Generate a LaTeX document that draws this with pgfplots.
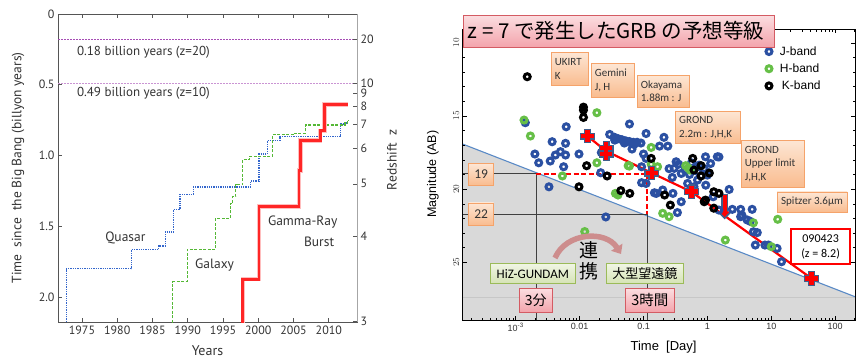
\documentclass[border=0pt]{standalone}
\usepackage{pgfplots}
\pgfplotsset{compat=1.18}
\usepackage{pgfplotstable}
\usepackage{fontspec}
\setmainfont{PT Sans}
\newfontfamily\arialf{Liberation Sans}
\newfontfamily\calf{Carlito}
\newfontfamily\jpf{Noto Sans CJK JP}
\usetikzlibrary{arrows.meta,shadows}

\definecolor{qso}{HTML}{3366CC}
\definecolor{gal}{HTML}{55B836}
\definecolor{grb}{HTML}{FF2626}
\definecolor{zline}{HTML}{A64DB5}
\definecolor{frame}{HTML}{555555}
\definecolor{txt}{HTML}{333333}
\definecolor{jband}{HTML}{2B50A2}
\definecolor{hband}{HTML}{66BF47}
\definecolor{limblue}{HTML}{5A8AC6}
\definecolor{shade}{HTML}{D9D9D9}
\definecolor{crossedge}{HTML}{3F5F8C}
\definecolor{orbord}{HTML}{F5A36A}
\definecolor{ortop}{HTML}{FDE6D4}
\definecolor{orbot}{HTML}{F9BC8F}
\definecolor{pkbord}{HTML}{D45B63}
\definecolor{pktop}{HTML}{FBDDE0}
\definecolor{pkbot}{HTML}{F3A4AC}
\definecolor{gnbord}{HTML}{9BBB59}
\definecolor{gntop}{HTML}{F0F5E4}
\definecolor{gnbot}{HTML}{D5E3B5}
\definecolor{arrowA}{HTML}{C07070}

% afterglow detections: log10(time / day) and AB magnitude
\pgfplotstableread{
lt m
-2.85 15.46
-2.21 15.74
-2.43 16.76
-2.22 16.87
-2.70 17.60
-2.64 18.20
-2.46 18.08
-2.38 17.67
-2.30 17.44
-2.22 17.67
-2.01 17.60
-2.25 18.47
-2.48 19.84
-1.59 21.90
-1.67 18.88
-1.66 17.50
-1.53 16.26
-1.46 16.45
-1.40 16.55
-1.34 16.62
-1.28 16.70
-1.22 16.75
-1.16 16.80
-1.10 16.80
-1.04 16.85
-1.45 16.65
-1.30 16.85
-1.15 16.95
-1.22 15.55
-0.96 16.20
-1.18 17.26
-1.00 17.60
-0.96 17.90
-0.68 16.46
-0.62 17.06
-0.75 17.06
0.18 17.80
-1.03 18.47
-1.03 19.56
-0.96 19.61
-0.83 20.25
-0.80 20.29
-0.70 20.06
-0.54 20.29
-0.47 21.60
-0.41 20.86
-0.31 19.61
-0.21 19.84
-0.155 19.38
-0.026 19.73
0.00 19.04
-0.13 18.36
0.05 18.25
-0.03 17.79
-0.49 18.13
-0.52 18.58
-0.41 18.93
-0.45 18.30
-0.35 18.70
-0.28 19.00
-0.15 18.80
-0.05 18.60
-0.25 18.20
-0.18 18.50
0.155 17.79
0.34 20.02
0.39 21.38
0.52 21.38
0.52 21.88
0.62 22.10
0.70 21.38
0.54 21.78
0.67 22.20
0.72 22.91
0.78 22.97
0.75 23.82
0.90 23.82
0.955 23.82
1.09 24.05
1.16 24.96
0.18 21.43
0.09 20.52
-0.60 18.60
-0.55 19.20
}\tabJ

\pgfplotstableread{
lt m
-2.87 15.28
-2.77 16.37
-1.73 14.78
-1.73 18.20
-2.27 19.10
-0.88 17.15
-1.24 18.40
-1.44 20.29
-1.40 20.40
-1.92 22.90
-0.70 21.65
-0.60 21.88
0.28 23.48
1.10 22.06
-0.34 18.40
-0.30 18.55
-0.27 18.70
-0.78 18.47
1.00 23.93
0.72 22.30
-1.22 18.42
-0.88 18.30
}\tabH

\pgfplotstableread{
lt m
-2.82 12.32
-1.94 14.40
-1.94 14.60
-1.94 15.10
-1.89 18.40
-1.57 19.10
-0.88 17.90
-2.01 19.84
-1.355 20.10
-1.215 20.29
-0.23 17.90
-0.10 18.40
-0.10 19.10
0.03 18.90
-0.67 20.40
-0.58 21.09
-0.21 18.70
0.10 20.18
-0.05 20.86
0.18 20.29
0.10 21.30
-0.03 20.75
}\tabK

\tikzset{
  obox/.style={draw=orbord, top color=ortop, bottom color=orbot, line width=0.6pt,
    drop shadow={opacity=0.25, shadow xshift=0.8bp, shadow yshift=-0.8bp}},
  pbox/.style={draw=pkbord, top color=pktop, bottom color=pkbot, line width=0.6pt,
    drop shadow={opacity=0.25, shadow xshift=0.8bp, shadow yshift=-0.8bp}},
  gbox/.style={draw=gnbord, top color=gntop, bottom color=gnbot, line width=0.6pt,
    drop shadow={opacity=0.25, shadow xshift=0.8bp, shadow yshift=-0.8bp}},
  boxtxt/.style={font=\calf\fontsize{11bp}{13.5bp}\selectfont, text=black!80, align=left, inner sep=0pt}
}
% #1 style, #2 left x, #3 top y, #4 width, #5 height
\newcommand\panel[5]{\node[#1, anchor=north west, minimum width=#4bp, minimum height=#5bp, inner sep=0pt] (b) at (#2bp,#3bp) {};}

\begin{document}
\begin{tikzpicture}
\useasboundingbox (0,0) rectangle (864bp,360bp);

% ---------------- left panel: record redshifts ----------------
\begin{axis}[
  at={(58bp,38bp)}, anchor=south west, scale only axis,
  width=299bp, height=308bp,
  xmin=1971.6, xmax=2014, ymin=0, ymax=2.176, y dir=reverse,
  axis line style={frame, line width=0.6pt},
  xtick={1975,1980,1985,1990,1995,2000,2005,2010},
  xticklabels={1975,1980,1985,1990,1995,2000,2005,2010},
  ytick={0,0.5,1,1.5,2}, yticklabels={0,0.5,1.0,1.5,2.0},
  xtick pos=both, ytick pos=left, tick align=inside,
  major tick length=4bp, tick style={frame, line width=0.6pt},
  ticklabel style={font=\fontsize{12bp}{14bp}\selectfont, text=txt},
  xlabel={Years}, ylabel={Time\ \ since\ \ the Big Bang (billyon years)},
  xlabel style={at={(axis description cs:0.5,-0.094)}, anchor=center, font=\fontsize{14bp}{16bp}\selectfont, text=txt},
  ylabel style={at={(axis description cs:-0.134,0.5)}, anchor=center, rotate=0, font=\fontsize{13.5bp}{16bp}\selectfont, text=txt},
]
\addplot[zline, dash pattern=on 2bp off 1bp, line width=1bp] coordinates {(1971.6,0.18) (2014,0.18)};
\addplot[zline!60, dash pattern=on 2bp off 1bp, line width=1bp] coordinates {(1971.6,0.49) (2014,0.49)};
\node[anchor=west, text=txt, font=\fontsize{13bp}{15bp}\selectfont] at (axis cs:1973.8,0.268) {0.18 billion years (z=20)};
\node[anchor=west, text=txt, font=\fontsize{13bp}{15bp}\selectfont] at (axis cs:1973.8,0.563) {0.49 billion years (z=10)};

% quasars
\addplot[qso, densely dotted, line width=1.3pt, const plot] coordinates {
 (1972.8,2.5) (1972.8,1.80) (1982.0,1.666) (1985.9,1.64) (1986.8,1.54) (1988.0,1.38)
 (1988.9,1.275) (1990.8,1.223) (1998.9,1.18) (2000.1,0.99) (2001.3,0.894) (2003.1,0.866)
 (2011.7,0.777) (2012.6,0.76) (2012.8,0.76)};
% galaxies
\addplot[gal, dash pattern=on 3bp off 1.5bp, line width=1.1pt, const plot] coordinates {
 (1987.9,2.5) (1987.9,1.89) (1989.9,1.665) (1993.9,1.446) (1996.0,1.34) (1996.4,1.29)
 (1996.8,1.206) (1997.8,1.03) (1998.8,1.005) (2002.0,0.852) (2005.0,0.843) (2006.7,0.784)
 (2012.3,0.77) (2012.6,0.75) (2012.8,0.75)};
% gamma-ray bursts
\addplot[grb!30, line width=4.2bp, const plot] coordinates {
 (1997.8,2.5) (1997.8,1.875) (2000.1,1.36) (2005.75,1.105) (2006.0,0.894) (2008.8,0.824)
 (2009.4,0.64) (2012.7,0.64)};
\addplot[grb, line width=2.6bp, const plot] coordinates {
 (1997.8,2.5) (1997.8,1.875) (2000.1,1.36) (2005.75,1.105) (2006.0,0.894) (2008.8,0.824)
 (2009.4,0.64) (2012.7,0.64)};

\node[text=txt, font=\fontsize{13.5bp}{16bp}\selectfont] at (axis cs:1981.15,1.585) {Quasar};
\node[text=txt, font=\fontsize{13.5bp}{16bp}\selectfont] at (axis cs:1993.8,1.775) {Galaxy};
\node[text=txt, font=\fontsize{13.5bp}{16bp}\selectfont] at (axis cs:2006.3,1.472) {Gamma-Ray};
\node[anchor=east, text=txt, font=\fontsize{13.5bp}{16bp}\selectfont] at (axis cs:2011.25,1.606) {Burst};
\end{axis}

% redshift scale on the right side
\begin{axis}[
  at={(58bp,38bp)}, anchor=south west, scale only axis,
  width=299bp, height=308bp,
  xmin=1971.6, xmax=2014, ymin=0, ymax=2.176, y dir=reverse,
  axis x line=none, axis y line*=right,
  axis line style={black!35, line width=1pt},
  ytick={0.18,0.49,0.56,0.65,0.78,0.95,1.2,1.57,2.17},
  yticklabels={20,10,9,8,7,6,5,4,3},
  tick align=inside, major tick length=4bp, tick style={frame, line width=0.6pt},
  ticklabel style={font=\fontsize{12bp}{14bp}\selectfont, text=txt},
  ylabel={Redshift\ \ z},
  ylabel style={at={(axis description cs:1.117,0.526)}, anchor=center, font=\fontsize{13.5bp}{16bp}\selectfont, text=txt},
]
\addplot[draw=none] coordinates {(1980,1)};
\end{axis}

% ---------------- right panel: afterglow brightness ----------------
\begin{axis}[
  at={(462.7bp,40bp)}, anchor=south west, scale only axis,
  width=392.3bp, height=290.7bp,
  xmode=log, xmin=1.48e-4, xmax=204, ymin=9.08, ymax=28.94, y dir=reverse,
  axis on top,
  axis line style={black, line width=0.8pt},
  xtick={0.001,0.01,0.1,1,10,100},
  xticklabels={10\textsuperscript{-3},0.01,0.1,1,10,100},
  minor xtick={2e-4,3e-4,4e-4,5e-4,6e-4,7e-4,8e-4,9e-4,
    0.002,0.003,0.004,0.005,0.006,0.007,0.008,0.009,
    0.02,0.03,0.04,0.05,0.06,0.07,0.08,0.09,
    0.2,0.3,0.4,0.5,0.6,0.7,0.8,0.9,
    2,3,4,5,6,7,8,9,20,30,40,50,60,70,80,90,200},
  ytick={10,15,20,25}, minor y tick num=4,
  tick align=inside, xtick pos=both, ytick pos=both,
  major tick length=4bp, minor tick length=2.5bp,
  tick style={black, line width=0.5pt},
  xticklabel style={font=\arialf\fontsize{9bp}{10bp}\selectfont, text=black!80},
  yticklabel style={font=\arialf\fontsize{9bp}{10bp}\selectfont, text=black!80, rotate=90, anchor=south},
  xlabel={Time\ \ [Day]}, ylabel={Magnitude (AB)},
  xlabel style={at={(axis description cs:0.512,-0.092)}, anchor=center, font=\arialf\fontsize{13bp}{15bp}\selectfont},
  ylabel style={at={(axis description cs:-0.0757,0.502)}, anchor=center, rotate=0, font=\arialf\fontsize{12.5bp}{15bp}\selectfont},
  legend style={at={(axis description cs:0.77,0.952)}, anchor=north west, draw=none, fill=none,
    font=\arialf\fontsize{12bp}{14bp}\selectfont, row sep=3bp, inner sep=1bp},
  legend cell align=left,
]
% region fainter than the detection limit
\addplot[fill=shade, draw=none, forget plot] coordinates {(1.48e-4,16.92) (204,27.35) (204,28.94) (1.48e-4,28.94)} -- cycle;
\addplot[black!22, line width=0.4pt, forget plot] coordinates {(1.48e-4,27.35) (204,27.35)};
\addplot[limblue, line width=1.1pt, forget plot] coordinates {(1.48e-4,16.92) (204,27.35)};
% guides at 3 min / 3 h
\addplot[black!75, line width=0.6pt, forget plot] coordinates {(1.48e-4,18.95) (0.00208,18.95)};
\addplot[black!75, line width=0.6pt, forget plot] coordinates {(0.00208,18.95) (0.00208,28.94)};
\addplot[black!75, line width=0.6pt, forget plot] coordinates {(1.48e-4,21.7) (0.115,21.7)};
\addplot[black!75, line width=0.6pt, forget plot] coordinates {(0.115,21.7) (0.115,28.94)};

\addplot[only marks, mark=o, jband, line width=3bp, mark size=3bp, mark options={line width=3bp}] table[x expr={10^(\thisrow{lt})}, y=m] \tabJ;
\addlegendentry{\hspace{6bp}J-band}
\addplot[only marks, mark=o, hband, line width=3bp, mark size=3bp, mark options={line width=3bp}] table[x expr={10^(\thisrow{lt})}, y=m] \tabH;
\addlegendentry{\hspace{6bp}H-band}
\addplot[only marks, mark=o, black, line width=3bp, mark size=3bp, mark options={line width=3bp}] table[x expr={10^(\thisrow{lt})}, y=m] \tabK;
\addlegendentry{\hspace{8bp}K-band}

\addplot[red, dash pattern=on 5bp off 2.5bp, line width=2bp, forget plot] coordinates {(0.00208,18.95) (0.135,18.95)};
\addplot[red, dash pattern=on 5bp off 2.5bp, line width=2bp, forget plot] coordinates {(0.115,18.95) (0.115,21.7)};

% GRB 090423 expected light curve at z = 7
\addplot[red, line width=2.2bp, forget plot] coordinates {(0.0132,16.37) (0.026,17.4) (0.135,18.9) (0.56,20.18) (42.5,26.1)};
\addplot[crossedge, line width=6.5bp, -{Triangle[length=7bp,width=13bp]}, shorten >=-1bp, forget plot] coordinates {(1.86,20.3) (1.86,22.0)};
\addplot[red, line width=4bp, -{Triangle[length=5.5bp,width=10bp]}, forget plot] coordinates {(1.86,20.4) (1.86,21.9)};
\addplot[only marks, mark=+, crossedge, line width=7bp, mark size=7.4bp, mark options={line width=7bp}, forget plot]
  coordinates {(0.0132,16.37) (0.026,17.2) (0.026,17.6) (0.135,18.9) (0.56,20.18) (42.5,26.1)};
\addplot[only marks, mark=+, red, line width=4.6bp, mark size=6.2bp, mark options={line width=4.6bp}, forget plot]
  coordinates {(0.0132,16.37) (0.026,17.2) (0.026,17.6) (0.135,18.9) (0.56,20.18) (42.5,26.1)};
\end{axis}

% ---------------- annotations ----------------
\node[draw=pkbord, top color=pktop, bottom color=pkbot, line width=0.7pt, anchor=north west,
  minimum width=311.3bp, minimum height=31.7bp, inner sep=0pt,
  drop shadow={opacity=0.25, shadow xshift=1bp, shadow yshift=-1bp}] (t) at (462.7bp,345bp) {};
\node[anchor=west, inner sep=0pt, font=\jpf\fontsize{20.5bp}{22bp}\selectfont] at ([xshift=5bp]t.west) {z = 7 で発生したGRB の予想等級};

\panel{obox}{550.7}{307.7}{37.6}{32.7}
\node[boxtxt, anchor=west] at ([xshift=4bp]b.west) {UKIRT\\K};
\panel{obox}{590.7}{296.7}{43.3}{33.4}
\node[boxtxt, anchor=west] at ([xshift=4bp]b.west) {Gemini\\J, H};
\panel{obox}{636.7}{285}{52.6}{32.3}
\node[boxtxt, anchor=west] at ([xshift=4bp]b.west) {Okayama\\1.88m : J};
\panel{obox}{675}{249}{65}{32.3}
\node[boxtxt, anchor=west] at ([xshift=4bp]b.west) {GROND\\2.2m : J,H,K};
\panel{obox}{740.7}{220}{63.3}{46.7}
\node[boxtxt, anchor=west] at ([xshift=4bp]b.west) {GROND\\Upper limit\\J,H,K};
\panel{obox}{776.7}{168.3}{70}{20}
\node[boxtxt] at (b.center) {Spitzer 3.6µm};
\panel{obox}{468.3}{196.7}{25}{21.7}
\node[boxtxt, font=\calf\fontsize{13.5bp}{15bp}\selectfont] at (b.center) {19};
\panel{obox}{468.3}{157.3}{25}{22.3}
\node[boxtxt, font=\calf\fontsize{13.5bp}{15bp}\selectfont] at (b.center) {22};

\node[draw=red, fill=white, line width=2pt, anchor=north west, minimum width=59.3bp, minimum height=34.4bp, inner sep=0pt] (b) at (790bp,131.7bp) {};
\node[font=\calf\fontsize{12bp}{15bp}\selectfont, align=center, inner sep=0pt] at (b.center) {090423\\(z = 8.2)};

\panel{gbox}{490}{96.7}{85}{20}
\node[inner sep=0pt, font=\calf\fontsize{13bp}{15bp}\selectfont] at (b.center) {HiZ-GUNDAM};
\panel{gbox}{606}{96.7}{77.3}{20}
\node[inner sep=0pt, font=\jpf\fontsize{13bp}{15bp}\selectfont] at (b.center) {大型望遠鏡};
\panel{pbox}{519.3}{71.7}{32.4}{23.4}
\node[inner sep=0pt, font=\jpf\fontsize{14bp}{15bp}\selectfont] at (b.center) {3分};
\panel{pbox}{625}{71.7}{49}{23.4}
\node[inner sep=0pt, font=\jpf\fontsize{14.5bp}{15bp}\selectfont] at (b.center) {3時間};

\draw[arrowA!80, line width=5.5bp, -{Triangle[length=8bp,width=13bp]}, shorten >=0bp]
  (555bp,102bp) .. controls (566bp,128bp) and (606bp,130bp) .. (621bp,106bp);
\node[inner sep=0pt, font=\jpf\fontsize{19bp}{20bp}\selectfont] at (589bp,110bp) {連};
\node[inner sep=0pt, font=\jpf\fontsize{19bp}{20bp}\selectfont] at (589bp,89bp) {携};
\end{tikzpicture}
\end{document}
